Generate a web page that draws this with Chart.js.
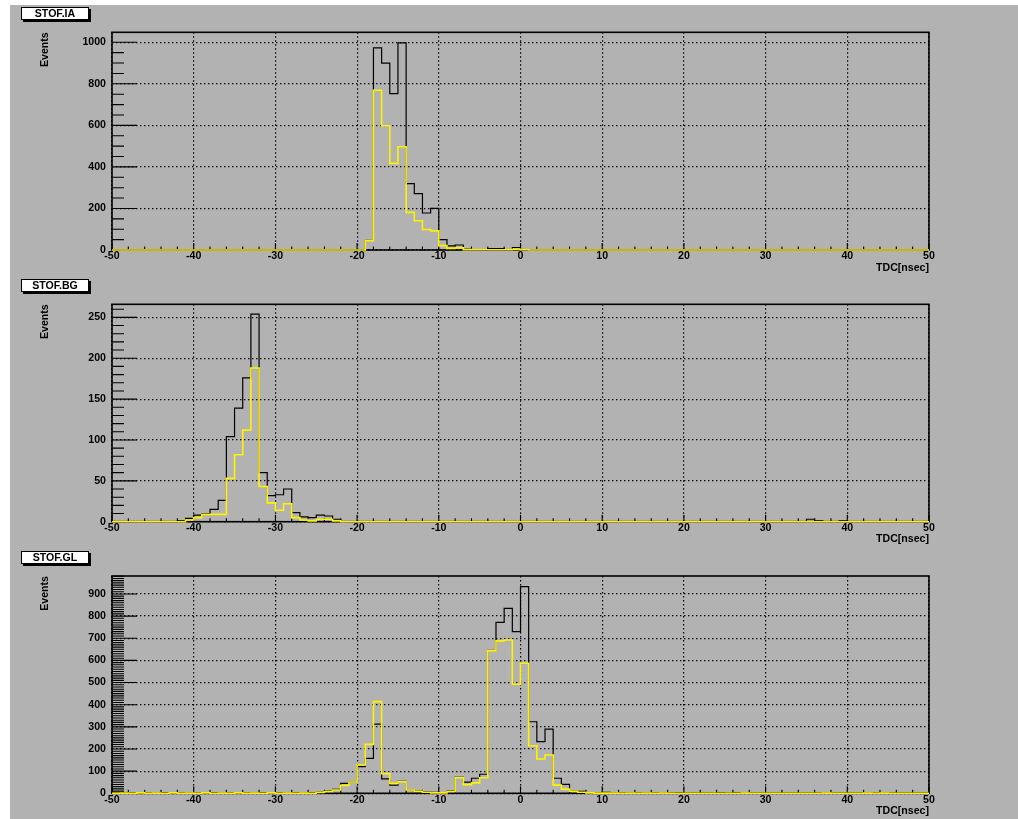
<!DOCTYPE html>
<html>
<head>
<meta charset="utf-8">
<script src="https://cdn.jsdelivr.net/npm/chart.js@4/dist/chart.umd.min.js"></script>
<style>
  body { margin: 0; background: #fff; width: 1018px; height: 819px; overflow: hidden; position: relative; }
  #pad { position: absolute; left: 10px; top: 5px; width: 1008px; height: 814px; background: #b2b2b2; }
  canvas { position: absolute; left: 0; }
  .tbox {
    position: absolute; left: 21px; width: 66px; height: 11px;
    background: #fff; border: 1px solid #000; box-shadow: 2px 2px 0 #000;
    font: bold 10.6px "Liberation Sans", Arial, Helvetica, sans-serif;
    line-height: 11px; text-align: center; color: #000;
  }
</style>
</head>
<body>
<div id="pad"></div>
<canvas id="c1" width="1018" height="274" style="top:0px"></canvas>
<canvas id="c2" width="1018" height="272" style="top:274px"></canvas>
<canvas id="c3" width="1018" height="273" style="top:546px"></canvas>
<div class="tbox" style="top:7px">STOF.IA</div>
<div class="tbox" style="top:279px">STOF.BG</div>
<div class="tbox" style="top:551px">STOF.GL</div>
<script>
// TDC histograms: 100 bins of 1 ns from -50 to 50 ns
const binLow = -50;
const xTickLabels = [-50, -40, -30, -20, -10, 0, 10, 20, 30, 40, 50];

const iaTicks = [0, 200, 400, 600, 800, 1000];
const bgTicks = [0, 50, 100, 150, 200, 250];
const glTicks = [0, 100, 200, 300, 400, 500, 600, 700, 800, 900];
const yMax = [1048, 266, 981];

// STOF.IA
const iaAll = [
  0, 0, 0, 0, 0, 0, 0, 0, 0, 0,
  0, 0, 0, 0, 0, 0, 0, 0, 0, 0,
  0, 0, 0, 0, 0, 0, 0, 0, 0, 0,
  0, 46, 973, 900, 753, 997, 320, 271, 178, 200,
  50, 20, 24, 4, 2, 1, 7, 7, 2, 12,
  2, 0, 0, 0, 0, 0, 0, 0, 0, 0,
  0, 0, 0, 0, 0, 0, 0, 0, 0, 0,
  0, 0, 0, 0, 0, 0, 0, 0, 0, 0,
  0, 0, 0, 0, 0, 0, 0, 0, 0, 0,
  0, 0, 0, 0, 0, 0, 0, 0, 0, 0
];
const iaCut = [
  0, 0, 0, 0, 0, 0, 0, 0, 0, 0,
  0, 0, 0, 0, 0, 0, 0, 0, 0, 0,
  0, 0, 0, 0, 0, 0, 0, 0, 0, 0,
  0, 45, 769, 598, 417, 497, 181, 141, 99, 92,
  21, 8, 10, 2, 1, 1, 1, 1, 1, 3,
  1, 0, 0, 0, 0, 0, 0, 0, 0, 0,
  0, 0, 0, 0, 0, 0, 0, 0, 0, 0,
  0, 0, 0, 0, 0, 0, 0, 0, 0, 0,
  0, 0, 0, 0, 0, 0, 0, 0, 0, 0,
  0, 0, 0, 0, 0, 0, 0, 0, 0, 0
];

// STOF.BG
const bgAll = [
  0, 0, 0, 0, 0, 0, 0, 0, 1, 4,
  8, 10, 15, 26, 104, 139, 176, 254, 60, 32,
  33, 40, 11, 6, 5, 8, 7, 3, 0, 0,
  0, 0, 0, 0, 0, 0, 0, 0, 0, 0,
  0, 0, 0, 0, 0, 0, 0, 0, 0, 0,
  0, 0, 0, 0, 0, 0, 0, 0, 0, 0,
  0, 0, 0, 0, 0, 0, 0, 0, 0, 0,
  0, 0, 0, 0, 0, 0, 0, 0, 0, 0,
  0, 0, 0, 0, 0, 3, 1, 0, 0, 1,
  0, 0, 0, 0, 0, 0, 0, 0, 0, 0
];
const bgCut = [
  0, 0, 0, 0, 0, 0, 0, 0, 0, 2,
  5, 9, 9, 9, 53, 82, 112, 188, 43, 23,
  14, 22, 5, 2, 1, 3, 3, 1, 0, 0,
  0, 0, 0, 0, 0, 0, 0, 0, 0, 0,
  0, 0, 0, 0, 0, 0, 0, 0, 0, 0,
  0, 0, 0, 0, 0, 0, 0, 0, 0, 0,
  0, 0, 0, 0, 0, 0, 0, 0, 0, 0,
  0, 0, 0, 0, 0, 0, 0, 0, 0, 0,
  0, 0, 0, 0, 0, 0, 0, 0, 0, 0,
  0, 0, 0, 0, 0, 0, 0, 0, 0, 0
];

// STOF.GL
const glAll = [
  0, 2, 0, 1, 0, 0, 2, 0, 0, 1,
  0, 0, 2, 0, 0, 1, 0, 0, 2, 0,
  1, 0, 1, 0, 2, 5, 10, 18, 45, 52,
  120, 158, 312, 65, 37, 54, 15, 10, 7, 4,
  2, 10, 72, 50, 68, 86, 645, 772, 835, 730,
  933, 323, 233, 290, 68, 40, 12, 9, 3, 3,
  4, 2, 0, 2, 0, 2, 0, 1, 0, 2,
  0, 0, 0, 0, 2, 0, 2, 0, 0, 0,
  0, 0, 0, 0, 0, 0, 0, 0, 0, 0,
  0, 0, 0, 0, 0, 0, 0, 0, 0, 0
];
const glCut = [
  0, 1, 0, 2, 0, 1, 0, 2, 0, 1,
  0, 2, 0, 1, 0, 2, 0, 1, 0, 2,
  0, 1, 0, 1, 0, 4, 8, 15, 36, 51,
  128, 221, 414, 89, 45, 52, 15, 9, 5, 2,
  2, 8, 70, 39, 47, 70, 644, 688, 692, 492,
  587, 215, 155, 173, 37, 19, 10, 5, 2, 1,
  1, 1, 0, 1, 0, 1, 0, 1, 0, 0,
  0, 0, 0, 0, 0, 0, 0, 1, 0, 0,
  0, 0, 0, 0, 0, 0, 0, 1, 0, 0,
  0, 0, 1, 0, 1, 0, 0, 0, 0, 0
];

const FONT = { family: '"Liberation Sans", Arial, Helvetica, sans-serif', size: 10.6, weight: 'bold' };
Chart.defaults.font.family = FONT.family;

// bin contents -> step outline points (low edges plus the closing upper edge)
function outline(counts) {
  const pts = counts.map((c, i) => ({ x: binLow + i, y: c }));
  pts.push({ x: binLow + counts.length, y: counts[counts.length - 1] });
  return pts;
}

// frame and inward tick marks in the histogram-package style
const frameTicks = {
  id: 'frameTicks',
  beforeDatasetsDraw(chart, args, opts) {
    const { ctx, chartArea: a, scales: { x, y } } = chart;
    ctx.save();
    ctx.strokeStyle = '#000';
    ctx.lineWidth = 1.1;
    ctx.beginPath();
    for (let v = 0; v <= y.max; v += opts.yMinor) {
      const p = y.getPixelForValue(v);
      const len = (v % opts.yMajor === 0) ? 25 : 12;
      ctx.moveTo(a.left, p);
      ctx.lineTo(a.left + len, p);
    }
    for (let v = x.min; v <= x.max; v += 2) {
      const p = x.getPixelForValue(v);
      const len = (v % 10 === 0) ? 7 : 3.5;
      ctx.moveTo(p, a.bottom);
      ctx.lineTo(p, a.bottom - len);
    }
    ctx.stroke();
    ctx.lineWidth = 1.6;
    ctx.strokeRect(a.left, a.top, a.right - a.left, a.bottom - a.top);
    ctx.restore();
  }
};

function makePanel(id, all, cut, yTicks, ymax, yMajor, yMinor, padTop, padBottom) {
  new Chart(document.getElementById(id), {
    type: 'line',
    data: {
      datasets: [
        { data: outline(cut), borderColor: '#fff200', borderWidth: 1.6, stepped: true,
          pointRadius: 0, fill: false, tension: 0, clip: 4 },
        { data: outline(all), borderColor: '#000', borderWidth: 1.2, stepped: true,
          pointRadius: 0, fill: false, tension: 0, clip: 4 }
      ]
    },
    options: {
      responsive: false,
      animation: false,
      events: [],
      layout: { padding: { left: 0, right: 89, top: padTop, bottom: padBottom } },
      plugins: {
        legend: { display: false },
        tooltip: { enabled: false },
        frameTicks: { yMajor, yMinor }
      },
      scales: {
        x: {
          type: 'linear', min: -50, max: 50,
          afterBuildTicks: s => { s.ticks = xTickLabels.map(v => ({ value: v })); },
          afterFit: s => { s.height = 24; },
          grid: { color: '#000', lineWidth: 1.2, drawTicks: false },
          border: { display: false, dash: [1.4, 2.6] },
          ticks: { font: FONT, color: '#000', padding: 0, maxRotation: 0, autoSkip: false,
                   callback: v => String(v) },
          title: { display: true, text: 'TDC[nsec]', align: 'end', font: FONT, color: '#000',
                   padding: { top: 0, bottom: 0 } }
        },
        y: {
          type: 'linear', min: 0, max: ymax,
          afterBuildTicks: s => { s.ticks = yTicks.map(v => ({ value: v })); },
          afterFit: s => { s.width = 112; },
          grid: { color: '#000', lineWidth: 1.2, drawTicks: false },
          border: { display: false, dash: [1.4, 2.6] },
          ticks: { font: FONT, color: '#000', padding: 6, autoSkip: false,
                   callback: v => String(v) },
          title: { display: true, text: 'Events', align: 'end', font: FONT, color: '#000',
                   padding: { top: 38.6, bottom: 0 } }
        }
      }
    },
    plugins: [frameTicks]
  });
}

makePanel('c1', iaAll, iaCut, iaTicks, yMax[0], 200, 50, 32.3, 0);
makePanel('c2', bgAll, bgCut, bgTicks, yMax[1], 50, 10, 30.3, 0.3);
makePanel('c3', glAll, glCut, glTicks, yMax[2], 100, 10, 30, 1.7);
</script>
</body>
</html>
